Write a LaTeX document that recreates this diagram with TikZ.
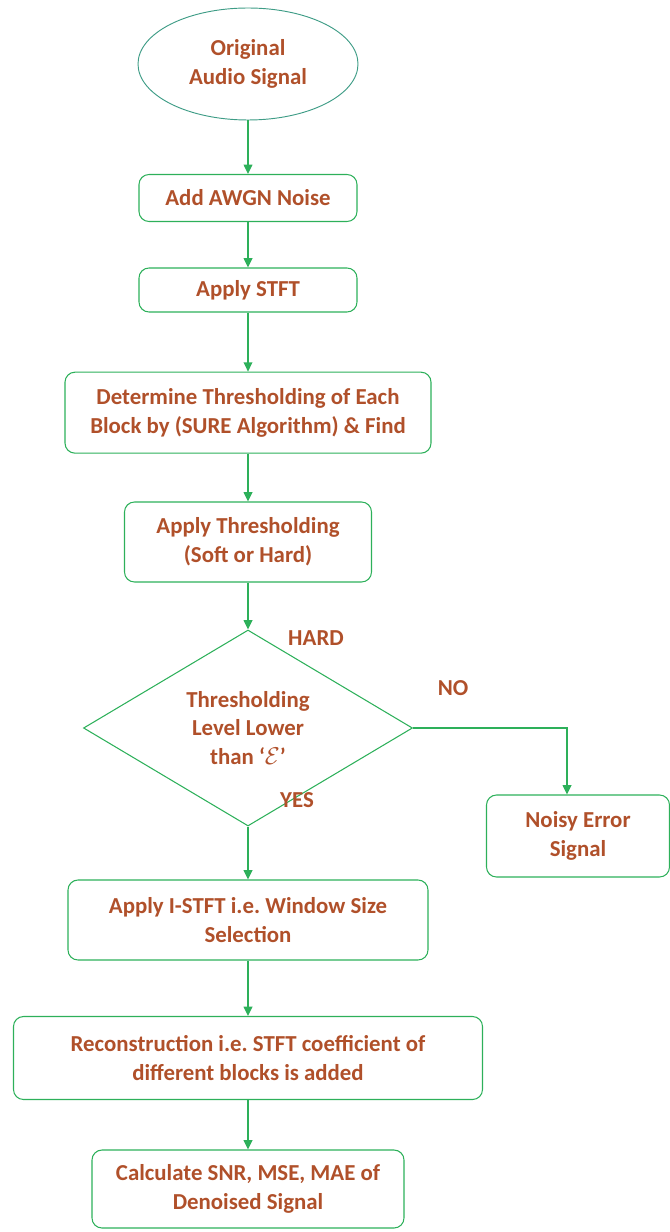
\documentclass[tikz,border=0pt]{standalone}
\usepackage{fontspec}
\setmainfont{Carlito}
\usepackage{xcolor}
\usepackage{tikz}
\usetikzlibrary{shapes.geometric, arrows.meta, positioning, calc}
\definecolor{cText}{HTML}{B0502A}
\definecolor{cLine}{HTML}{2DB05A}
\definecolor{cOval}{HTML}{3E9C86}
\frenchspacing

\begin{document}
\begin{tikzpicture}[
  every node/.style={font=\fontsize{19.5}{24.7}\selectfont\bfseries, text=cText},
  proc/.style={draw=cLine, line width=0.9pt, rounded corners=0.3cm, align=center, inner sep=2pt},
  oval/.style={draw=cOval, line width=0.8pt, ellipse, align=center, minimum width=6.6cm, minimum height=3.36cm},
  decide/.style={draw=cLine, line width=0.9pt, diamond, aspect=1.68, align=center, minimum width=9.87cm, minimum height=5.88cm, inner sep=0pt},
  tag/.style={inner sep=1pt},
  ar/.style={-{Triangle[length=2.8mm, width=2.6mm]}, line width=1.3pt, draw=cLine}
]
\useasboundingbox (0,0) rectangle (20.1,-36.96);

% Main column
\node[oval] (orig) at (7.44,-1.92) {Original\\Audio Signal};
\node[proc, minimum width=6.54cm, minimum height=1.41cm] (awgn) at (7.44,-5.94) {Add AWGN Noise};
\node[proc, minimum width=6.54cm, minimum height=1.32cm] (stft) at (7.44,-8.7) {Apply STFT};
\node[proc, minimum width=10.98cm, minimum height=2.43cm] (thr) at (7.44,-12.38) {Determine Thresholding of Each\\Block by (SURE Algorithm) \& Find};
\node[proc, minimum width=7.41cm, minimum height=2.4cm] (apply) at (7.44,-16.26) {Apply Thresholding\\(Soft or Hard)};
\node[decide] (level) at (7.44,-21.84) {Thresholding\\Level Lower\\than `$\mathcal{E}$'};
\node[proc, minimum width=10.8cm, minimum height=2.4cm] (istft) at (7.44,-27.6) {Apply I-STFT i.e. Window Size\\Selection};
\node[proc, minimum width=14.07cm, minimum height=2.49cm] (recon) at (7.44,-31.74) {Reconstruction i.e. STFT coefficient of\\different blocks is added};
\node[proc, minimum width=9.36cm, minimum height=2.34cm] (calc) at (7.44,-35.67) {Calculate SNR, MSE, MAE of\\Denoised Signal};

% Side branch
\node[proc, minimum width=5.49cm, minimum height=2.46cm] (noisy) at (17.34,-25.08) {Noisy Error\\Signal};
\coordinate (turn) at (17.01,-21.84);

% Labels
\node[tag] (hard) at (9.48,-19.14) {HARD};
\node[tag] (no) at (13.59,-20.64) {NO};
\node[tag] (yes) at (8.91,-24.0) {YES};

\draw[ar] (orig) -- (awgn);
\draw[ar] (awgn) -- (stft);
\draw[ar] (stft) -- (thr);
\draw[ar] (thr) -- (apply);
\draw[ar] (apply) -- (level);
\draw[ar] (level) -- (istft);
\draw[ar] (istft) -- (recon);
\draw[ar] (recon) -- (calc);
\draw[ar] (level.east) -- (turn) -- (turn |- noisy.north);
\end{tikzpicture}
\end{document}
